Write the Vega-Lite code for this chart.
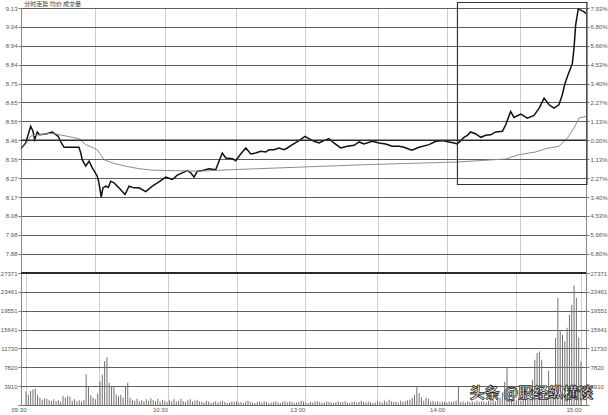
{
"$schema": "https://vega.github.io/schema/vega-lite/v6.json",
"autosize": {"type": "pad"},
"padding": {"left": 0, "top": 0, "right": 0, "bottom": 0},
"bounds": "flush",
"spacing": 0,
"background": "white",
"title": {"text": "分时走势             均价 成交量", "anchor": "start", "fontSize": 6, "fontWeight": "normal", "color": "#333", "offset": -5, "dx": 24, "font": "Noto Sans CJK SC"},
"datasets": {
"price": [
{"m":0,"p":-0.50},{"m":2.0,"p":-0.16},{"m":4.1,"p":0.84},{"m":5.1,"p":0.54},{"m":5.8,"p":0.04},{"m":6.9,"p":0.50},{"m":7.9,"p":0.33},{"m":10.5,"p":0.38},{"m":13.3,"p":0.50},{"m":14.4,"p":0.38},{"m":15.8,"p":0.24},{"m":16.9,"p":-0.10},{"m":18.3,"p":-0.42},{"m":19.7,"p":-0.42},{"m":24.6,"p":-0.42},{"m":25.4,"p":-0.76},{"m":26.0,"p":-1.16},{"m":27.5,"p":-1.55},{"m":28.9,"p":-1.25},{"m":30.3,"p":-1.65},{"m":32.4,"p":-2.15},{"m":33.1,"p":-2.55},{"m":34.1,"p":-3.40},{"m":34.8,"p":-2.85},{"m":36.0,"p":-2.75},{"m":37.1,"p":-2.81},{"m":38.1,"p":-2.45},{"m":39.5,"p":-2.55},{"m":41.6,"p":-2.85},{"m":44.2,"p":-3.25},{"m":45.9,"p":-2.75},{"m":48.0,"p":-2.85},{"m":50.1,"p":-2.85},{"m":53.0,"p":-3.08},{"m":55.8,"p":-2.75},{"m":58.6,"p":-2.49},{"m":61.5,"p":-2.21},{"m":64.3,"p":-2.35},{"m":66.4,"p":-2.09},{"m":68.5,"p":-1.95},{"m":70.6,"p":-1.81},{"m":72.1,"p":-1.95},{"m":73.5,"p":-2.21},{"m":74.9,"p":-1.85},{"m":77.0,"p":-1.81},{"m":79.9,"p":-1.70},{"m":82.7,"p":-1.76},{"m":84.1,"p":-1.25},{"m":85.5,"p":-0.76},{"m":87.0,"p":-1.06},{"m":89.8,"p":-1.10},{"m":91.2,"p":-1.22},{"m":93.3,"p":-0.82},{"m":95.5,"p":-0.46},{"m":97.6,"p":-0.82},{"m":99.7,"p":-0.76},{"m":101.8,"p":-0.66},{"m":104.0,"p":-0.70},{"m":105.4,"p":-0.56},{"m":107.5,"p":-0.56},{"m":109.6,"p":-0.46},{"m":111.7,"p":-0.56},{"m":113.1,"p":-0.46},{"m":115.3,"p":-0.26},{"m":118.1,"p":-0.02},{"m":120.6,"p":0.24},{"m":122.3,"p":0.10},{"m":124.5,"p":-0.06},{"m":126.6,"p":-0.16},{"m":128.7,"p":-0.02},{"m":130.8,"p":0.10},{"m":132.9,"p":-0.16},{"m":135.8,"p":-0.46},{"m":138.6,"p":-0.36},{"m":141.5,"p":-0.30},{"m":143.6,"p":-0.10},{"m":145.7,"p":-0.22},{"m":149.2,"p":-0.06},{"m":152.1,"p":-0.16},{"m":154.9,"p":-0.22},{"m":157.7,"p":-0.36},{"m":160.6,"p":-0.36},{"m":162.7,"p":-0.42},{"m":166.0,"p":-0.60},{"m":169.1,"p":-0.42},{"m":173.3,"p":-0.26},{"m":176.2,"p":-0.06},{"m":179.0,"p":-0.02},{"m":181.8,"p":-0.10},{"m":184.0,"p":-0.16},{"m":185.3,"p":-0.22},{"m":186.8,"p":-0.02},{"m":188.2,"p":0.18},{"m":189.6,"p":0.30},{"m":191.0,"p":0.50},{"m":193.2,"p":0.38},{"m":195.3,"p":0.18},{"m":197.4,"p":0.30},{"m":199.5,"p":0.33},{"m":201.7,"p":0.50},{"m":204.5,"p":0.54},{"m":205.9,"p":0.93},{"m":208.0,"p":1.73},{"m":209.4,"p":1.37},{"m":212.3,"p":1.57},{"m":215.1,"p":1.33},{"m":217.9,"p":1.49},{"m":220.1,"p":1.93},{"m":222.2,"p":2.53},{"m":224.3,"p":2.13},{"m":226.4,"p":1.93},{"m":228.5,"p":2.13},{"m":229.9,"p":2.72},{"m":231.1,"p":3.42},{"m":232.1,"p":3.82},{"m":234.2,"p":4.61},{"m":234.9,"p":5.51},{"m":235.6,"p":6.90},{"m":236.7,"p":7.86},{"m":237.8,"p":7.80},{"m":239.2,"p":7.70},{"m":240.0,"p":7.60}
],
"avg": [
{"m":0,"p":-0.50},{"m":2.0,"p":-0.22},{"m":4.2,"p":0.26},{"m":7.6,"p":0.32},{"m":11.9,"p":0.41},{"m":14.7,"p":0.38},{"m":24.6,"p":0.10},{"m":26.0,"p":-0.06},{"m":27.5,"p":-0.26},{"m":32.4,"p":-0.56},{"m":35.3,"p":-1.16},{"m":38.8,"p":-1.36},{"m":44.5,"p":-1.55},{"m":50.1,"p":-1.70},{"m":55.8,"p":-1.79},{"m":61.5,"p":-1.81},{"m":75.6,"p":-1.85},{"m":89.6,"p":-1.76},{"m":118.1,"p":-1.61},{"m":146.4,"p":-1.46},{"m":185.3,"p":-1.30},{"m":205.9,"p":-1.12},{"m":211.6,"p":-0.86},{"m":218.7,"p":-0.70},{"m":222.9,"p":-0.50},{"m":228.5,"p":-0.36},{"m":232.1,"p":0.14},{"m":234.9,"p":0.73},{"m":237.0,"p":1.33},{"m":240.0,"p":1.43}
],
"vol": [
{"m":0,"v":2800},{"m":1,"v":2100},{"m":2,"v":2900},{"m":3,"v":3200},{"m":4,"v":3400},{"m":5,"v":2100},{"m":6,"v":1500},{"m":7,"v":1100},{"m":8,"v":1400},{"m":9,"v":1300},{"m":10,"v":1000},{"m":11,"v":900},{"m":12,"v":1200},{"m":13,"v":800},{"m":14,"v":1000},{"m":15,"v":700},{"m":16,"v":1900},{"m":17,"v":1500},{"m":18,"v":1800},{"m":19,"v":1700},{"m":20,"v":900},{"m":21,"v":1200},{"m":22,"v":800},{"m":23,"v":1000},{"m":24,"v":700},{"m":25,"v":1100},{"m":26,"v":6400},{"m":27,"v":3900},{"m":28,"v":2000},{"m":29,"v":1500},{"m":30,"v":1200},{"m":31,"v":2400},{"m":32,"v":4900},{"m":33,"v":6300},{"m":34,"v":9100},{"m":35,"v":9900},{"m":36,"v":4600},{"m":37,"v":3900},{"m":38,"v":3900},{"m":39,"v":2200},{"m":40,"v":1800},{"m":41,"v":2100},{"m":42,"v":1500},{"m":43,"v":3900},{"m":44,"v":4600},{"m":45,"v":1500},
{"m":46,"v":1100},{"m":47,"v":900},{"m":48,"v":1300},{"m":49,"v":800},{"m":50,"v":1000},{"m":51,"v":700},{"m":52,"v":1200},{"m":53,"v":900},{"m":54,"v":1400},{"m":55,"v":1000},{"m":56,"v":800},{"m":57,"v":1300},{"m":58,"v":700},{"m":59,"v":1100},{"m":60,"v":900},{"m":61,"v":600},{"m":62,"v":1000},{"m":63,"v":800},{"m":64,"v":1200},{"m":65,"v":700},{"m":66,"v":900},{"m":67,"v":1300},{"m":68,"v":800},{"m":69,"v":600},{"m":70,"v":1000},{"m":71,"v":1200},{"m":72,"v":700},{"m":73,"v":900},{"m":74,"v":1100},
{"m":75,"v":800},{"m":76,"v":600},{"m":77,"v":500},{"m":78,"v":900},{"m":79,"v":700},{"m":80,"v":400},{"m":81,"v":600},{"m":82,"v":800},{"m":83,"v":500},{"m":84,"v":700},{"m":85,"v":900},{"m":86,"v":600},{"m":87,"v":400},{"m":88,"v":500},{"m":89,"v":700},{"m":90,"v":600},{"m":91,"v":800},{"m":92,"v":500},{"m":93,"v":600},{"m":94,"v":400},{"m":95,"v":700},{"m":96,"v":900},{"m":97,"v":600},{"m":98,"v":500},{"m":99,"v":400},{"m":100,"v":600},{"m":101,"v":700},{"m":102,"v":500},{"m":103,"v":800},{"m":104,"v":600},{"m":105,"v":400},{"m":106,"v":500},{"m":107,"v":600},{"m":108,"v":700},{"m":109,"v":500},{"m":110,"v":400},{"m":111,"v":600},{"m":112,"v":800},{"m":113,"v":500},{"m":114,"v":700},{"m":115,"v":600},{"m":116,"v":400},{"m":117,"v":500},{"m":118,"v":600},{"m":119,"v":900},{"m":120,"v":700},{"m":121,"v":500},{"m":122,"v":400},{"m":123,"v":600},{"m":124,"v":500},{"m":125,"v":700},{"m":126,"v":800},{"m":127,"v":600},{"m":128,"v":400},{"m":129,"v":500},{"m":130,"v":700},{"m":131,"v":600},{"m":132,"v":500},{"m":133,"v":400},{"m":134,"v":600},{"m":135,"v":700},{"m":136,"v":500},{"m":137,"v":600},{"m":138,"v":800},{"m":139,"v":500},{"m":140,"v":400},{"m":141,"v":600},{"m":142,"v":700},{"m":143,"v":500},{"m":144,"v":600},{"m":145,"v":900},{"m":146,"v":600},{"m":147,"v":500},{"m":148,"v":700},{"m":149,"v":600},{"m":150,"v":400},{"m":151,"v":500},{"m":152,"v":800},
{"m":153,"v":700},{"m":154,"v":500},{"m":155,"v":900},{"m":156,"v":600},{"m":157,"v":1100},{"m":158,"v":800},{"m":159,"v":600},{"m":160,"v":700},{"m":161,"v":500},{"m":162,"v":900},{"m":163,"v":600},{"m":164,"v":800},{"m":165,"v":1000},{"m":166,"v":1100},{"m":167,"v":1450},{"m":168,"v":2100},{"m":169,"v":3900},{"m":170,"v":2500},{"m":171,"v":1600},{"m":172,"v":900},{"m":173,"v":1450},{"m":174,"v":1300},{"m":175,"v":700},{"m":176,"v":900},{"m":177,"v":600},{"m":178,"v":800},{"m":179,"v":500},{"m":180,"v":700},{"m":181,"v":600},{"m":182,"v":500},{"m":183,"v":700},{"m":184,"v":600},{"m":185,"v":800},{"m":186,"v":900},{"m":187,"v":3900},{"m":188,"v":600},{"m":189,"v":700},{"m":190,"v":500},{"m":191,"v":800},{"m":192,"v":600},{"m":193,"v":700},{"m":194,"v":500},{"m":195,"v":900},{"m":196,"v":600},{"m":197,"v":800},{"m":198,"v":700},{"m":199,"v":500},{"m":200,"v":900},{"m":201,"v":700},{"m":202,"v":1100},{"m":203,"v":800},{"m":204,"v":1300},{"m":205,"v":1500},{"m":206,"v":2600},{"m":207,"v":4800},{"m":208,"v":7800},{"m":209,"v":1800},{"m":210,"v":1200},{"m":211,"v":1500},{"m":212,"v":1000},{"m":213,"v":1300},{"m":214,"v":900},{"m":215,"v":1400},{"m":216,"v":1100},{"m":217,"v":1600},{"m":218,"v":2400},{"m":219,"v":5200},{"m":220,"v":9400},{"m":221,"v":10800},{"m":222,"v":11100},{"m":223,"v":9400},{"m":224,"v":1800},{"m":225,"v":1500},{"m":226,"v":7100},{"m":227,"v":1800},{"m":228,"v":2500},{"m":229,"v":13900},{"m":230,"v":22200},{"m":231,"v":15300},{"m":232,"v":14500},{"m":233,"v":13200},{"m":234,"v":16000},{"m":235,"v":18700},{"m":236,"v":20800},{"m":237,"v":24800},{"m":238,"v":22200},{"m":239,"v":14000},{"m":240,"v":9000}
]
},
"vconcat": [
{
"width": 565,
"height": 264.6,
"resolve": {"axis": {"y": "independent"}},
"layer": [
{
"data": {"name": "price"},
"mark": {"type": "line", "color": "#111", "strokeWidth": 1.5, "interpolate": "linear"},
"encoding": {
"x": {"field": "m", "type": "quantitative", "scale": {"domain": [0, 240], "nice": false, "zero": false},
"axis": {"values": [31.4, 61.2, 91.2, 120.6, 151.7, 181, 212], "labels": false, "ticks": false, "domain": false, "grid": true, "gridColor": "#cfcfcf", "title": null}},
"y": {"field": "p", "type": "quantitative", "scale": {"domain": [-7.93, 7.93], "nice": false, "zero": false},
"axis": {"orient": "left", "values": [-7.93, -6.797, -5.664, -4.531, -3.399, -2.266, -1.133, 0, 1.133, 2.266, 3.399, 4.531, 5.664, 6.797, 7.93],
"labelExpr": "datum.value < -7.9 ? '' : format(8.46*(1+datum.value/100), '.2f')",
"grid": true, "gridColor": "#5e5e5e", "gridWidth": 1, "domain": true, "domainColor": "#888", "ticks": true, "tickSize": 3, "tickColor": "#777", "labelPadding": 1, "labelFlush": false, "labelOverlap": false, "title": null}}
}
},
{
"data": {"name": "avg"},
"mark": {"type": "line", "color": "#8c8c8c", "strokeWidth": 1},
"encoding": {
"x": {"field": "m", "type": "quantitative", "scale": {"domain": [0, 240], "nice": false, "zero": false},
"axis": {"values": [31.4, 61.2, 91.2, 120.6, 151.7, 181, 212], "labels": false, "ticks": false, "domain": false, "grid": true, "gridColor": "#cfcfcf", "title": null}},
"y": {"field": "p", "type": "quantitative", "scale": {"domain": [-7.93, 7.93], "nice": false, "zero": false},
"axis": {"orient": "right", "values": [-7.93, -6.797, -5.664, -4.531, -3.399, -2.266, -1.133, 0, 1.133, 2.266, 3.399, 4.531, 5.664, 6.797, 7.93],
"labelExpr": "datum.value < -7.9 ? '' : format(abs(datum.value), '.2f') + '%'",
"grid": false, "domain": true, "domainColor": "#888", "ticks": true, "tickSize": 3, "tickColor": "#777", "labelPadding": 1, "labelFlush": false, "labelOverlap": false, "title": null}}
}
},
{
"data": {"values": [{}]},
"mark": {"type": "rule", "color": "#2a2a2a", "strokeWidth": 1.6},
"encoding": {"y": {"datum": 0, "type": "quantitative", "scale": {"domain": [-7.93, 7.93], "nice": false, "zero": false}, "axis": null}}
},
{
"data": {"values": [{}]},
"mark": {"type": "rect", "fillOpacity": 0, "stroke": "#333", "strokeWidth": 1.2, "clip": false},
"encoding": {
"x": {"datum": 185.4, "type": "quantitative", "scale": {"domain": [0, 240], "nice": false, "zero": false},
"axis": {"values": [31.4, 61.2, 91.2, 120.6, 151.7, 181, 212], "labels": false, "ticks": false, "domain": false, "grid": true, "gridColor": "#cfcfcf", "title": null}},
"x2": {"datum": 240.4},
"y": {"datum": 8.26, "type": "quantitative", "scale": {"domain": [-7.93, 7.93], "nice": false, "zero": false}, "axis": null},
"y2": {"datum": -2.65}
}
}
]
},
{
"width": 565,
"height": 132,
"resolve": {"axis": {"y": "independent"}},
"layer": [
{
"data": {"name": "vol"},
"mark": {"type": "bar", "color": "#707070", "size": 1},
"encoding": {
"x": {"field": "m", "type": "quantitative", "scale": {"domain": [0, 240], "nice": false, "zero": false},
"axis": {"values": [0, 31.4, 61.2, 91.2, 120.6, 151.7, 181, 212, 240],
"labelExpr": "datum.value == 0 ? '09:30' : datum.value == 61.2 ? '10:30' : datum.value == 120.6 ? '13:00' : datum.value == 181 ? '14:00' : datum.value == 240 ? '15:00' : ''",
"labelAlign": "right", "labelPadding": 1, "labelFlush": false, "labelOverlap": false, "ticks": false, "domain": true, "domainColor": "#666", "grid": true, "gridColor": "#cfcfcf", "title": null}},
"y": {"field": "v", "type": "quantitative", "scale": {"domain": [0, 27371], "nice": false, "zero": true},
"axis": {"orient": "left", "values": [0, 3910.14, 7820.29, 11730.43, 15640.57, 19550.71, 23460.86, 27371],
"labelExpr": "datum.value < 1 ? '' : format(datum.value, '.0f')",
"grid": true, "gridColor": "#5e5e5e", "gridWidth": 1, "domain": true, "domainColor": "#888", "ticks": true, "tickSize": 3, "tickColor": "#777", "labelPadding": 1, "labelFlush": false, "labelOverlap": false, "title": null}}
}
},
{
"data": {"name": "vol"},
"mark": {"type": "bar", "color": "#707070", "size": 1, "opacity": 0},
"encoding": {
"x": {"field": "m", "type": "quantitative", "scale": {"domain": [0, 240], "nice": false, "zero": false},
"axis": {"values": [0, 31.4, 61.2, 91.2, 120.6, 151.7, 181, 212, 240],
"labelExpr": "datum.value == 0 ? '09:30' : datum.value == 61.2 ? '10:30' : datum.value == 120.6 ? '13:00' : datum.value == 181 ? '14:00' : datum.value == 240 ? '15:00' : ''",
"labelAlign": "right", "labelPadding": 1, "labelFlush": false, "labelOverlap": false, "ticks": false, "domain": true, "domainColor": "#666", "grid": true, "gridColor": "#cfcfcf", "title": null}},
"y": {"field": "v", "type": "quantitative", "scale": {"domain": [0, 27371], "nice": false, "zero": true},
"axis": {"orient": "right", "values": [0, 3910.14, 7820.29, 11730.43, 15640.57, 19550.71, 23460.86, 27371],
"labelExpr": "datum.value < 1 ? '' : format(datum.value, '.0f')",
"grid": false, "domain": true, "domainColor": "#888", "ticks": true, "tickSize": 3, "tickColor": "#777", "labelPadding": 1, "labelFlush": false, "labelOverlap": false, "title": null}}
}
},
{
"data": {"values": [{}]},
"mark": {"type": "rule", "color": "#2a2a2a", "strokeWidth": 2},
"encoding": {"y": {"datum": 27371, "type": "quantitative", "scale": {"domain": [0, 27371], "nice": false, "zero": true}, "axis": null}}
},
{
"data": {"values": [{}]},
"mark": {"type": "text", "font": "Noto Sans CJK SC", "fontSize": 15, "fontWeight": "bold", "fill": "#ffffff", "stroke": "#2a2a2a", "strokeWidth": 0.8, "align": "center", "baseline": "middle"},
"encoding": {
"x": {"datum": 218.6, "type": "quantitative", "scale": {"domain": [0, 240], "nice": false, "zero": false},
"axis": {"values": [0, 31.4, 61.2, 91.2, 120.6, 151.7, 181, 212, 240],
"labelExpr": "datum.value == 0 ? '09:30' : datum.value == 61.2 ? '10:30' : datum.value == 120.6 ? '13:00' : datum.value == 181 ? '14:00' : datum.value == 240 ? '15:00' : ''",
"labelAlign": "right", "labelPadding": 1, "labelFlush": false, "labelOverlap": false, "ticks": false, "domain": true, "domainColor": "#666", "grid": true, "gridColor": "#cfcfcf", "title": null}},
"y": {"datum": 2490, "type": "quantitative", "scale": {"domain": [0, 27371], "nice": false, "zero": true}, "axis": null},
"text": {"value": "头条 @股经纵横谈"}
}
}
]
}
],
"config": {
"view": {"stroke": null},
"axis": {"labelFont": "Liberation Sans", "labelFontSize": 6, "labelColor": "#555"}
}
}
